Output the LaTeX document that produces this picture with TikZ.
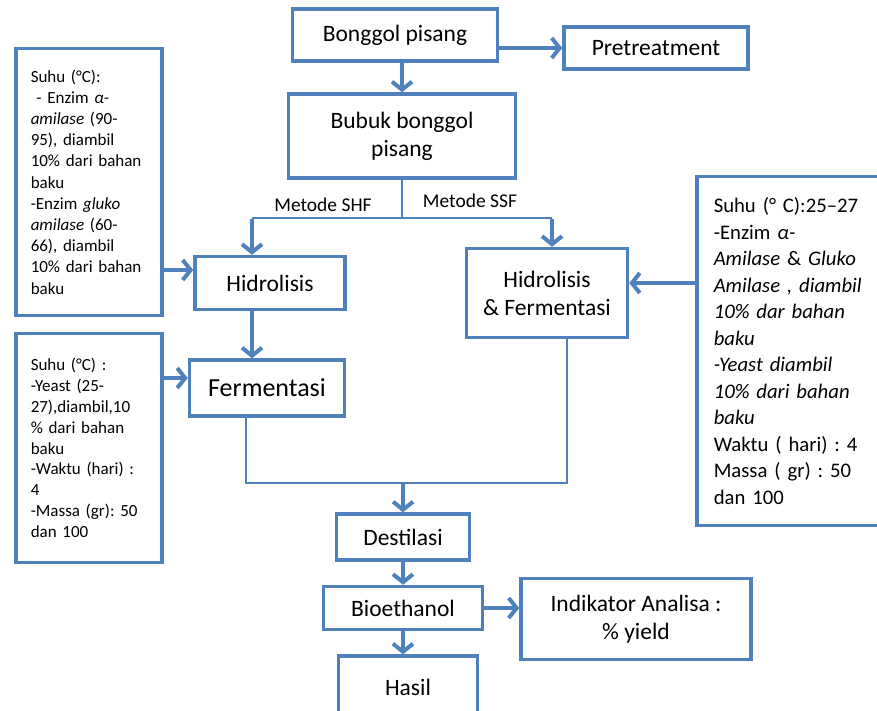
\documentclass[tikz,border=0pt]{standalone}
\usepackage{fontspec}
\setmainfont{Carlito}
\newfontfamily\infofont[WordSpace=0.85]{Carlito}
\usetikzlibrary{arrows.meta}
\definecolor{boxblue}{RGB}{79,129,189}
\frenchspacing

\begin{document}
\begin{tikzpicture}[x=1pt, y=-1pt,
            box/.style={draw=boxblue, line width=3.5pt, align=center, inner sep=0pt, font=\fontsize{23.5}{28}\selectfont},
            infobox/.style={draw=boxblue, line width=3.5pt, align=left, anchor=west, inner ysep=0pt},
            thinline/.style={draw=boxblue, line width=1.3pt},
            arrow/.style={draw=boxblue, line width=4pt, -{Straight Barb[length=8pt, width=20pt]}},
            methodnode/.style={font=\fontsize{19.5}{22}\selectfont}
        ]
            \useasboundingbox (0,0) rectangle (877,710);
            \clip (0,0) rectangle (877,710);

            % main flow
            \node[box, minimum width=205, minimum height=52] (bonggol) at (395,35) {Bonggol pisang};
            \node[box, minimum width=184, minimum height=42] (pretreat) at (656,48) {Pretreatment};
            \node[box, minimum width=227, minimum height=84] (bubuk) at (402,136) {Bubuk bonggol\\pisang};
            \node[box, minimum width=150, minimum height=53] (hidro) at (270,283) {Hidrolisis};
            \node[box, minimum width=155, minimum height=56, font=\fontsize{26}{30}\selectfont] (ferment) at (267,388) {Fermentasi};
            \node[box, minimum width=161, minimum height=89] (hf) at (547,293) {Hidrolisis\\\& Fermentasi};
            \node[box, minimum width=133, minimum height=46] (destilasi) at (403,537) {Destilasi};
            \node[box, minimum width=159, minimum height=43] (bioeth) at (403,608) {Bioethanol};
            \node[box, minimum width=139, minimum height=62] (hasil) at (408,687) {Hasil};
            \node[box, minimum width=230, minimum height=81] (indikator) at (636,619) {Indikator Analisa :\\\% yield};

            % process conditions
            \node[infobox, inner xsep=15pt, text width=116pt, minimum height=267, font=\infofont\fontsize{17}{21.2}\selectfont] (info1) at (14,182)
                {Suhu (°C):\\
                 \ - Enzim \textit{α-}\\
                 \textit{amilase} (90-\\
                 95), diambil\\
                 10\% dari bahan\\
                 baku\\
                 -Enzim \textit{gluko}\\
                 \textit{amilase} (60-\\
                 66), diambil\\
                 10\% dari bahan\\
                 baku};
            \node[infobox, inner xsep=15pt, text width=116pt, minimum height=229, font=\infofont\fontsize{17}{20.8}\selectfont] (info2) at (14,448)
                {Suhu (°C) :\\
                 -Yeast (25-\\
                 27),diambil,10\\
                 \% dari bahan\\
                 baku\\
                 -Waktu (hari) :\\
                 4\\
                 -Massa (gr): 50\\
                 dan 100};
            \node[infobox, inner xsep=17pt, text width=175pt, minimum height=349, font=\infofont\fontsize{20.7}{26.5}\selectfont] (info3) at (695,351)
                {Suhu (° C):25–27\\
                 -Enzim \textit{α-}\\
                 \textit{Amilase} \& \textit{Gluko}\\
                 \textit{Amilase , diambil}\\
                 \textit{10\% dar bahan}\\
                 \textit{baku}\\
                 \textit{-Yeast diambil}\\
                 \textit{10\% dari bahan}\\
                 \textit{baku}\\
                 Waktu ( hari) : 4\\
                 Massa ( gr) : 50\\
                 dan 100};

            % split and merge points
            \coordinate (splitL) at (252,218);
            \coordinate (splitR) at (552,218);
            \coordinate (mergeL) at (246,483);
            \coordinate (mergeR) at (567,483);
            \coordinate (merge) at (403,483);

            % thin lines
            \draw[thinline] (bubuk.south) -- (bubuk.south |- splitL);
            \draw[thinline] (splitL) -- (splitR);
            \draw[thinline] (ferment.south -| mergeL) -- (mergeL) -- (mergeR) -- (hf.south -| mergeR);

            % method labels
            \node[methodnode] (shf) at (323,205) {Metode SHF};
            \node[methodnode] (ssf) at (470,201) {Metode SSF};

            % arrows
            \coordinate (h1) at ([yshift=13pt]hidro.west);
            \coordinate (f1) at ([yshift=10pt]ferment.west);
            \coordinate (hf1) at ([yshift=10pt]hf.east);
            \draw[arrow] (bonggol.east |- pretreat) -- (pretreat.west);
            \draw[arrow] (bonggol.south -| bubuk) -- (bubuk.north);
            \draw[arrow] ([yshift=-1pt]splitL) -- (splitL |- hidro.north);
            \draw[arrow] ([yshift=-1pt]splitR) -- (splitR |- hf.north);
            \draw[arrow] (hidro.south -| splitL) -- (ferment.north -| splitL);
            \draw[arrow] (info1.east |- h1) -- (h1);
            \draw[arrow] (info2.east |- f1) -- (f1);
            \draw[arrow] (info3.west |- hf1) -- (hf1);
            \draw[arrow] (merge) -- (destilasi.north);
            \draw[arrow] (destilasi.south) -- (bioeth.north);
            \draw[arrow] (bioeth.south) -- (bioeth.south |- hasil.north);
            \draw[arrow] (bioeth.east) -- (bioeth.east -| indikator.west);

        \end{tikzpicture}
\end{document}
